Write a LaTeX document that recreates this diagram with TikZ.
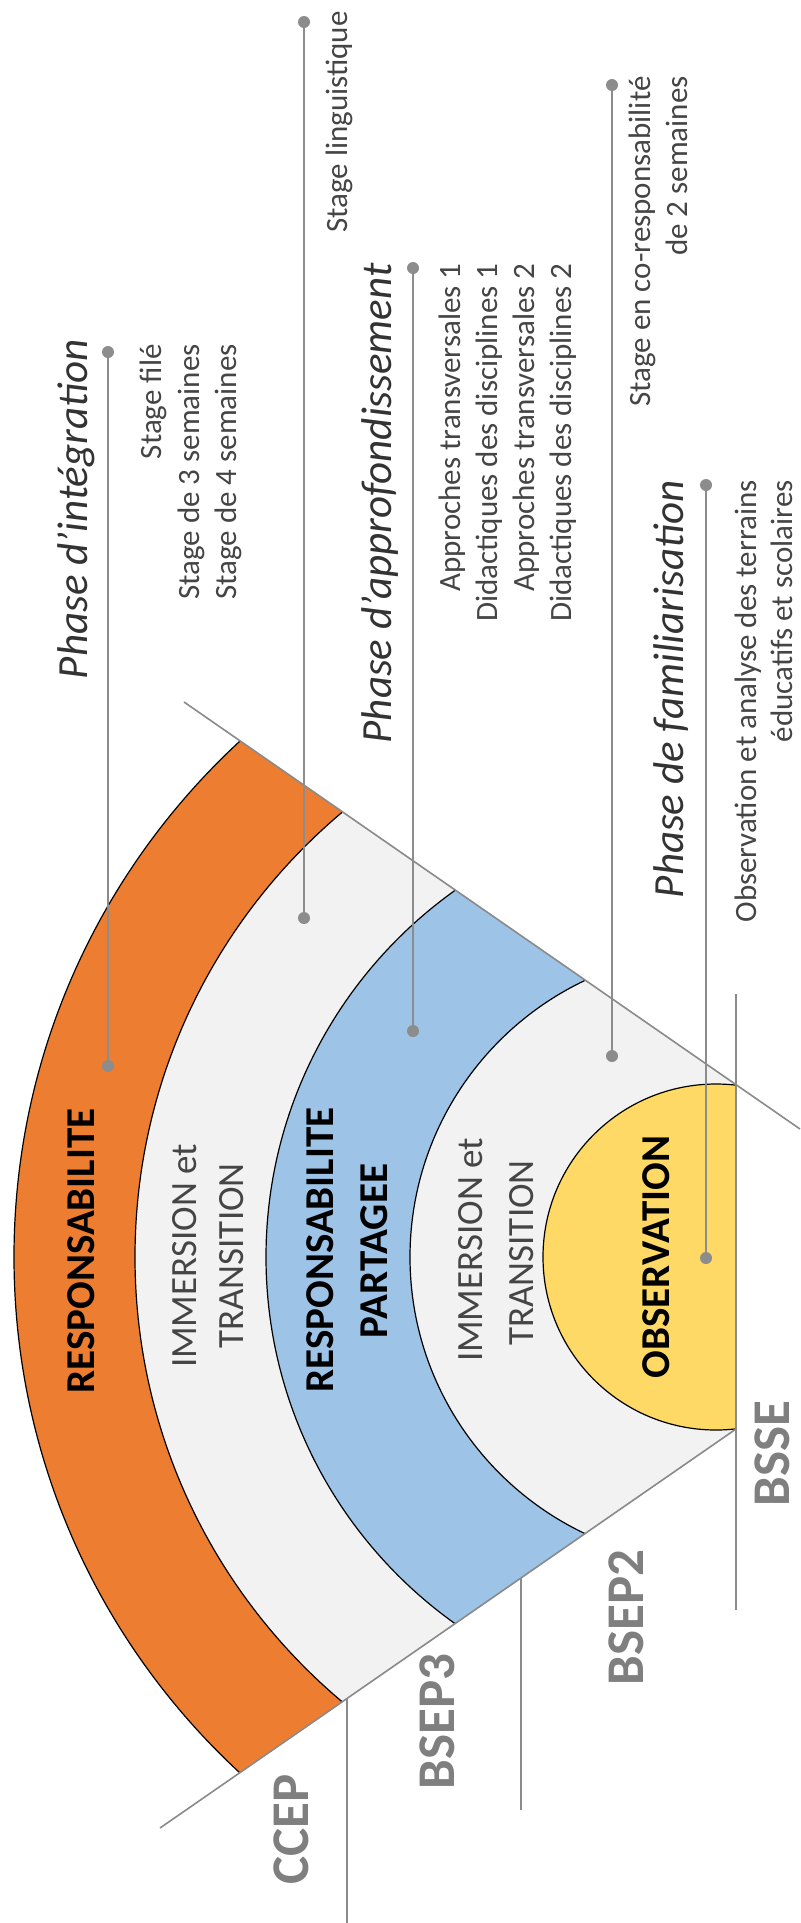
\documentclass[tikz,border=0pt]{standalone}
\usepackage{fontspec}
\setmainfont{Carlito}
\definecolor{cOrange}{HTML}{ED7D31}
\definecolor{cLight}{HTML}{F2F2F2}
\definecolor{cBlue}{HTML}{9DC3E6}
\definecolor{cYellow}{HTML}{FFD966}
\definecolor{cLeader}{HTML}{8C8C8C}
\definecolor{cFan}{HTML}{8A8A8A}
\definecolor{cLabel}{HTML}{7F7F7F}
\definecolor{cText}{HTML}{454545}
\begin{document}
\begin{tikzpicture}[x=0.5pt,y=-0.5pt,
  band/.style={draw=black,line width=0.6pt},
  dot/.style={circle,fill=cLeader,inner sep=0pt,minimum size=6pt},
  leader/.style={draw=cLeader,line width=1pt},
  fanline/.style={draw=cFan,line width=0.8pt},
  sidetext/.style={rotate=90,anchor=base east,inner sep=0pt,text=cText,font=\fontsize{15.5}{18}\selectfont},
  phasetitle/.style={rotate=90,anchor=base east,inner sep=0pt,text=black!80,font=\fontsize{21.5}{26}\selectfont\itshape},
  bandbold/.style={rotate=90,anchor=base,inner sep=0pt,text=black,font=\fontsize{20.5}{25}\selectfont\bfseries},
  bandlight/.style={rotate=90,anchor=base,inner sep=0pt,text=cText,font=\fontsize{18.5}{22}\selectfont},
  baselabel/.style={rotate=90,anchor=base west,inner sep=0pt,text=cLabel,font=\fontsize{26.5}{32}\selectfont\bfseries}]
\useasboundingbox[fill=white] (0,0) rectangle (800,1923);

\coordinate (C) at (716,1257);
% bands
\begin{scope}
\clip (736,1085) -- (-200,436) -- (-200,2078) -- (736,1429) -- cycle;
\filldraw[band,fill=cOrange] (C) circle[radius=351pt];
\filldraw[band,fill=cLight] (C) circle[radius=290.5pt];
\filldraw[band,fill=cBlue] (C) circle[radius=225pt];
\filldraw[band,fill=cLight] (C) circle[radius=153pt];
\filldraw[band,fill=cYellow] (C) circle[radius=86.5pt];
\end{scope}

% fan lines
\coordinate (U1) at (184,702);
\coordinate (U2) at (800,1129);
\coordinate (L1) at (160,1828);
\coordinate (L2) at (736,1429);
\draw[fanline] (U1) -- (U2);
\draw[fanline] (L1) -- (L2);

% vertical boundary lines
\coordinate (V1a) at (347,1698);
\coordinate (V1b) at (347,1923);
\coordinate (V2a) at (521,1578);
\coordinate (V2b) at (521,1810);
\coordinate (V3a) at (736,994);
\coordinate (V3b) at (736,1610);
\draw[fanline] (V1a) -- (V1b);
\draw[fanline] (V2a) -- (V2b);
\draw[fanline] (V3a) -- (V3b);

% band texts
\node[bandbold] (resp) at (94,1251) {RESPONSABILITE};
\node[bandlight] (imm1a) at (196,1256) {IMMERSION et};
\node[bandlight] (imm1b) at (243,1256) {TRANSITION};
\node[bandbold] (rp1) at (333,1250) {RESPONSABILITE};
\node[bandbold] (rp2) at (387,1251) {PARTAGEE};
\node[bandlight] (imm2a) at (482,1250) {IMMERSION et};
\node[bandlight] (imm2b) at (533,1253) {TRANSITION};
\node[bandbold] (obs) at (669,1257) {OBSERVATION};

% leaders
\node[dot] (d1t) at (108,352) {};
\node[dot] (d1b) at (108,1066) {};
\node[dot] (d2t) at (304,22) {};
\node[dot] (d2b) at (304,918) {};
\node[dot] (d3t) at (413,268) {};
\node[dot] (d3b) at (413,1031) {};
\node[dot] (d4t) at (612,85) {};
\node[dot] (d4b) at (612,1056) {};
\node[dot] (d5t) at (706,485) {};
\node[dot] (d5b) at (706,1258) {};
\draw[leader] (d1t) -- (d1b);
\draw[leader] (d2t) -- (d2b);
\draw[leader] (d3t) -- (d3b);
\draw[leader] (d4t) -- (d4b);
\draw[leader] (d5t) -- (d5b);

% phase titles
\node[phasetitle] (ph1) at (87,339) {Phase d’intégration};
\node[phasetitle] (ph2) at (391,263) {Phase d’approfondissement};
\node[phasetitle] (ph3) at (683,480) {Phase de familiarisation};

% side texts
\node[sidetext] (s1) at (161,344) {Stage filé};
\node[sidetext] (s2) at (199,344) {Stage de 3 semaines};
\node[sidetext] (s3) at (236,344) {Stage de 4 semaines};
\node[sidetext] (s4) at (347,11) {Stage linguistique};
\node[sidetext] (s5) at (460,263) {Approches transversales 1};
\node[sidetext] (s6) at (497,263) {Didactiques des disciplines 1};
\node[sidetext] (s7) at (534,263) {Approches transversales 2};
\node[sidetext] (s8) at (571,263) {Didactiques des disciplines 2};
\node[sidetext] (s9) at (650,76) {Stage en co-responsabilité};
\node[sidetext] (s10) at (687,76) {de 2 semaines};
\node[sidetext] (s11) at (756,480) {Observation et analyse des terrains};
\node[sidetext] (s12) at (792,480) {éducatifs et scolaires};

% base labels
\node[baselabel] (ccep) at (308,1885) {CCEP};
\node[baselabel] (bsep3) at (454,1790) {BSEP3};
\node[baselabel] (bsep2) at (643,1686) {BSEP2};
\node[baselabel] (bsse) at (789,1507) {BSSE};
\end{tikzpicture}
\end{document}
